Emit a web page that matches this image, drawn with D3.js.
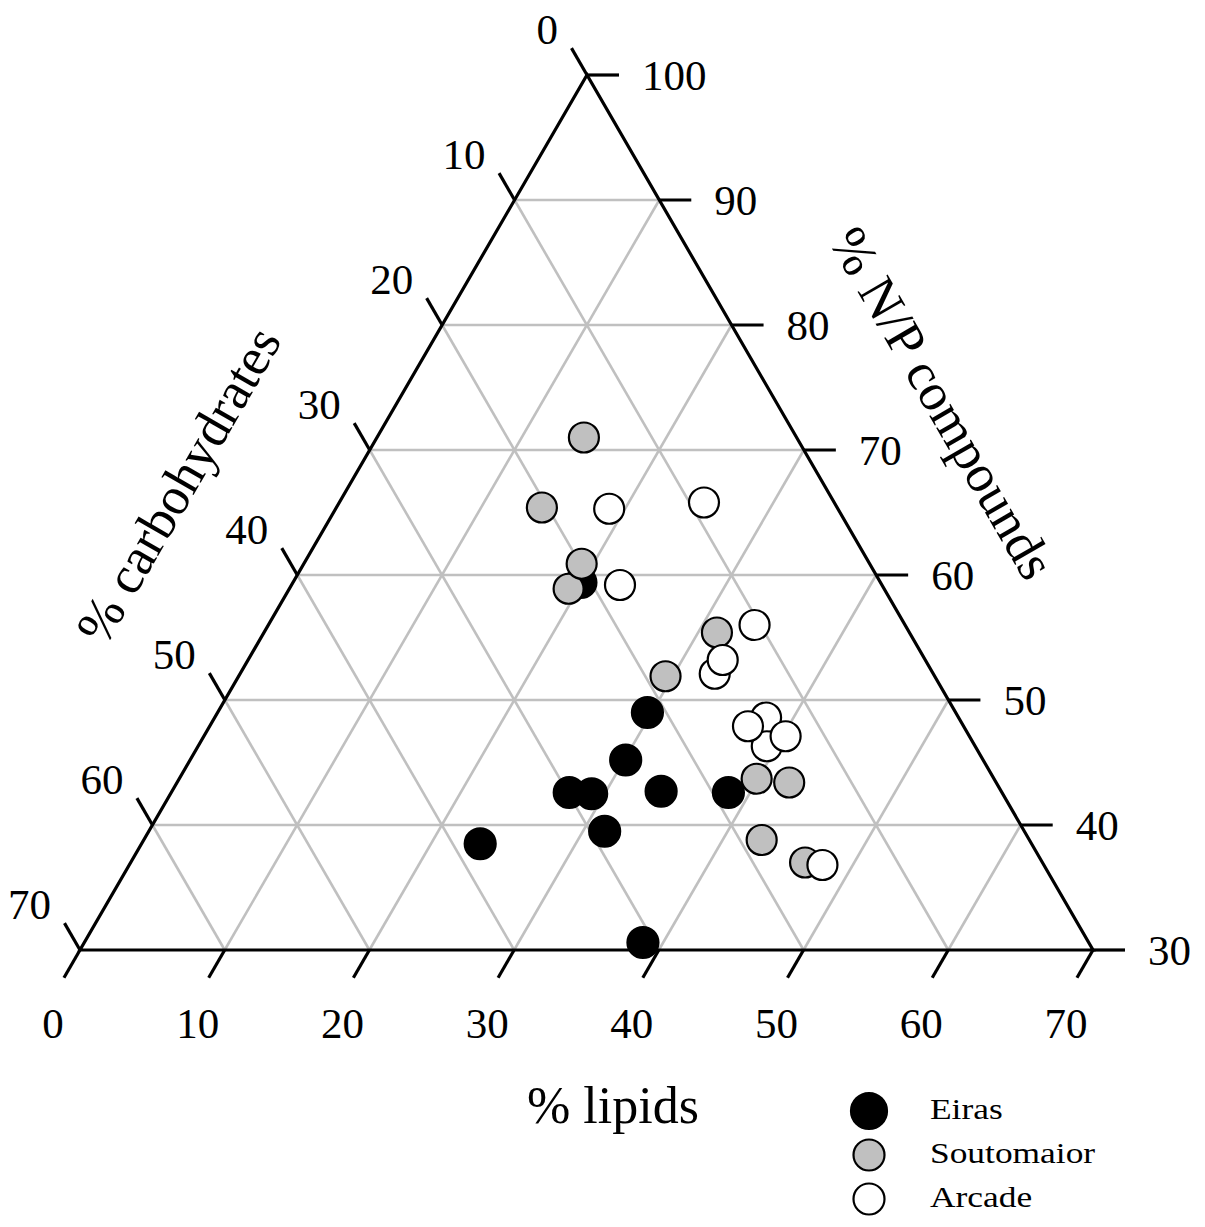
<!DOCTYPE html>
<html>
<head>
<meta charset="utf-8">
<script src="https://cdn.jsdelivr.net/npm/d3@7"></script>
<style>
  body { margin: 0; background: #fff; }
  text { font-family: "Liberation Serif", "Times New Roman", serif; fill: #000; }
</style>
</head>
<body>
<svg id="chart" width="1205" height="1227"></svg>
<script>
// tick values of the three axes
var lipidTicks = [0, 10, 20, 30, 40, 50, 60, 70];
var npTicks = [30, 40, 50, 60, 70, 80, 90, 100];
var carbTicks = [0, 10, 20, 30, 40, 50, 60, 70];

// samples: % lipids and % N/P compounds (carbohydrates = the rest)
var eirasLipids = [19.9, 29.7, 30.1, 27.5, 29.1, 33.8, 38.5, 31.5, 23.4, 38.6];
var eirasNP     = [59.4, 49.0, 45.2, 42.6, 42.5, 42.7, 42.6, 39.5, 38.5, 30.6];
var soutoLipids = [14.3, 14.2, 19.3, 19.2, 31.3, 29.5, 39.9, 42.3, 42.7, 46.6];
var soutoNP     = [71.0, 65.4, 58.9, 60.9, 55.4, 51.9, 43.7, 43.4, 38.8, 37.0];
var arcadeLipids = [18.9, 25.2, 22.7, 33.6, 32.8, 32.8, 38.1, 39.3, 37.2, 40.2, 47.9];
var arcadeNP     = [65.3, 65.8, 59.2, 56.0, 52.1, 53.2, 48.6, 46.3, 47.9, 47.1, 36.8];

var seriesNames = ["Eiras", "Soutomaior", "Arcade"];
var seriesFill = ["#000", "#c0c0c0", "#fff"];

var svg = d3.select("#chart");

// triangle corners on screen
var BL = [80, 950], BR = [1093, 950], TOP = [587, 75];

var lipidScale = d3.scaleLinear().domain([0, 70]).range([0, 1]);
var npScale = d3.scaleLinear().domain([30, 100]).range([0, 1]);

function proj(l, n) {
  var a = lipidScale(l), b = npScale(n);
  return [BL[0] + a * (BR[0] - BL[0]) + b * (TOP[0] - BL[0]),
          BL[1] + a * (BR[1] - BL[1]) + b * (TOP[1] - BL[1])];
}

var line = d3.line();

// grid
var grid = svg.append("g").attr("stroke", "#c0c0c0").attr("stroke-width", 2.6).attr("fill", "none");
lipidTicks.slice(1, -1).forEach(function(l) {
  grid.append("path").attr("d", line([proj(l, 30), proj(l, 100 - l)]));
});
npTicks.slice(1, -1).forEach(function(n) {
  grid.append("path").attr("d", line([proj(0, n), proj(100 - n, n)]));
});
carbTicks.slice(1, -1).forEach(function(c) {
  grid.append("path").attr("d", line([proj(0, 100 - c), proj(70 - c, 30)]));
});

// frame
svg.append("path")
  .attr("d", line([proj(0, 30), proj(70, 30), proj(0, 100)]) + "Z")
  .attr("fill", "none").attr("stroke", "#000").attr("stroke-width", 3.2)
  .attr("stroke-linejoin", "miter");

function unit(p, q) {
  var dx = q[0] - p[0], dy = q[1] - p[1], len = Math.sqrt(dx * dx + dy * dy);
  return [dx / len, dy / len];
}
var bottomDir = unit(TOP, BL);
var leftDir = unit(BR, TOP);
var tickLen = 32;

var ticks = svg.append("g").attr("stroke", "#000").attr("stroke-width", 3.2);
var labels = svg.append("g").attr("font-size", 43);

// lipids (bottom)
lipidTicks.forEach(function(l) {
  var p = proj(l, 30);
  ticks.append("path").attr("d", line([p, [p[0] + tickLen * bottomDir[0], p[1] + tickLen * bottomDir[1]]]));
  labels.append("text").attr("x", p[0] - 27).attr("y", p[1] + 88)
    .attr("text-anchor", "middle").text(l);
});

// N/P compounds (right)
npTicks.forEach(function(n) {
  var p = proj(100 - n, n);
  ticks.append("path").attr("d", line([p, [p[0] + tickLen, p[1]]]));
  labels.append("text").attr("x", p[0] + 55).attr("y", p[1] + 15)
    .attr("text-anchor", "start").text(n);
});

// carbohydrates (left)
carbTicks.forEach(function(c) {
  var p = proj(0, 100 - c);
  ticks.append("path").attr("d", line([p, [p[0] + 31 * leftDir[0], p[1] + 31 * leftDir[1]]]));
  labels.append("text").attr("x", p[0] - 29).attr("y", p[1] - 31)
    .attr("text-anchor", "end").text(c);
});

// axis titles
svg.append("text").attr("x", 613).attr("y", 1123).attr("text-anchor", "middle")
  .attr("font-size", 52).text("% lipids");
svg.append("text").attr("transform", "translate(194,494) rotate(-60)")
  .attr("text-anchor", "middle").attr("font-size", 53).text("% carbohydrates");
svg.append("text").attr("transform", "translate(927,412) rotate(60)")
  .attr("text-anchor", "middle").attr("font-size", 53).text("% N/P compounds");

// points
var series = [
  { lipids: eirasLipids, np: eirasNP },
  { lipids: soutoLipids, np: soutoNP },
  { lipids: arcadeLipids, np: arcadeNP }
];
series.forEach(function(s, i) {
  var pts = s.lipids.map(function(l, j) { return proj(l, s.np[j]); });
  svg.append("g").selectAll("circle")
    .data(pts)
    .enter().append("circle")
      .attr("cx", function(d) { return d[0]; })
      .attr("cy", function(d) { return d[1]; })
      .attr("r", i == 0 ? 15.5 : 15)
      .attr("fill", seriesFill[i])
      .attr("stroke", "#000")
      .attr("stroke-width", 2.2);
});

// legend
var legendY = d3.scaleLinear().domain([0, 2]).range([1111, 1199]);
var legend = svg.append("g");
seriesNames.forEach(function(name, i) {
  legend.append("circle").attr("cx", 869).attr("cy", legendY(i))
    .attr("r", i == 0 ? 18 : 15.5)
    .attr("fill", seriesFill[i]).attr("stroke", "#000").attr("stroke-width", 2.2);
  legend.append("text")
    .attr("transform", "translate(930," + (legendY(i) + 8) + ") scale(1.18,1)")
    .attr("font-size", 30).text(name);
});
</script>
</body>
</html>
